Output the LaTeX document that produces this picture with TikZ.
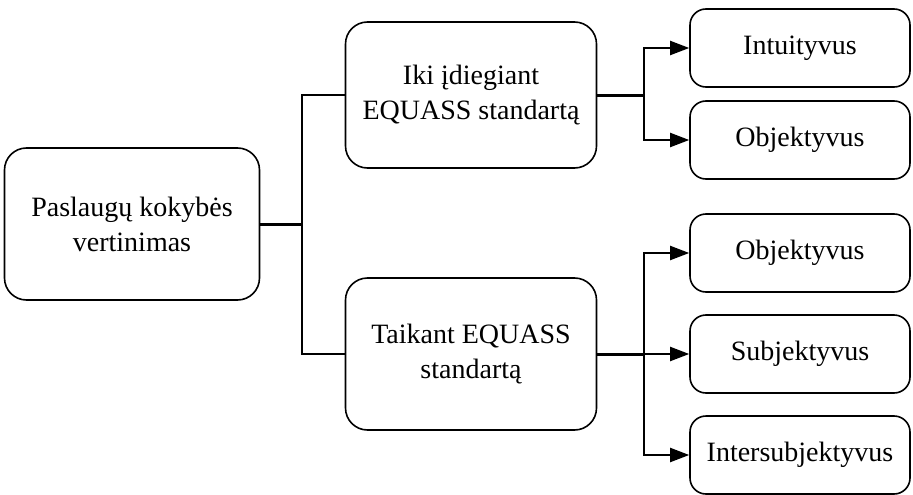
\documentclass[tikz,border=0pt]{standalone}
\usepackage{fontspec}
\setmainfont{Liberation Serif}
\usetikzlibrary{arrows.meta}
\tikzset{
  bigbox/.style={draw, line width=1.6pt, rounded corners=22pt, align=center, inner sep=0pt, font=\fontsize{28}{35}\selectfont},
  leafbox/.style={draw, line width=1.6pt, rounded corners=16pt, align=center, inner sep=0pt, minimum width=220pt, minimum height=78pt, font=\fontsize{28}{35}\selectfont},
  branch/.style={line width=2pt},
  trunk/.style={line width=3pt},
  arr/.style={line width=2pt, -{Triangle[length=19pt, width=14pt]}}
}

\begin{document}
\begin{tikzpicture}[x=1pt, y=-1pt]
			%%%%% START %%%%%
			\useasboundingbox (0, 0) rectangle (913, 495);
			
			\node[bigbox, minimum width=255pt, minimum height=152pt] (vert) at (132, 224) {Paslaugų kokybės\\vertinimas};
			
			\node[bigbox, minimum width=251pt, minimum height=146pt] (iki) at (471, 95) {Iki įdiegiant\\EQUASS standartą};
			\node[bigbox, minimum width=251pt, minimum height=152pt] (taik) at (471, 354) {Taikant EQUASS\\standartą};
			
			\node[leafbox] (intu) at (800, 48) {Intuityvus};
			\node[leafbox] (obj1) at (800, 140) {Objektyvus};
			\node[leafbox] (obj2) at (800, 253) {Objektyvus};
			\node[leafbox] (subj) at (800, 354) {Subjektyvus};
			\node[leafbox] (inter) at (800, 455) {Intersubjektyvus};
			
			\coordinate (ja) at (302, 224);
			\coordinate (jb) at (644, 95);
			\coordinate (jc) at (644, 354);
			
			\draw[trunk] (vert.east) -- (ja);
			\draw[branch] (ja) |- (iki.west);
			\draw[branch] (ja) |- (taik.west);
			
			\draw[trunk] (iki.east) -- (jb);
			\draw[arr] (jb) |- (intu.west);
			\draw[arr] (jb) |- (obj1.west);
			
			\draw[trunk] (taik.east) -- (jc);
			\draw[arr] (jc) |- (obj2.west);
			\draw[arr] (jc) -- (subj.west);
			\draw[arr] (jc) |- (inter.west);
			%%%%% END %%%%%
\end{tikzpicture}
\end{document}
